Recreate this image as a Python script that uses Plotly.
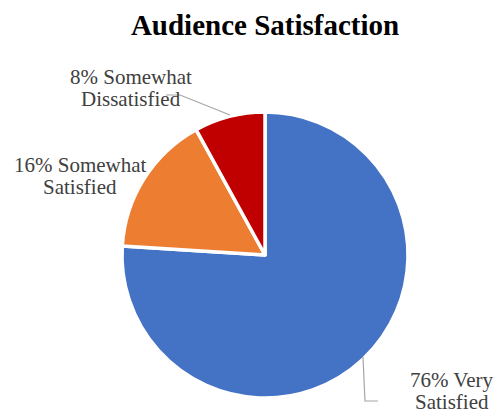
import plotly.graph_objects as go

categories = ["Very Satisfied", "Somewhat Satisfied", "Somewhat Dissatisfied"]
values = [76, 16, 8]
colors = ["#4472C4", "#ED7D31", "#C00000"]
label_lines = [["76% Very", "Satisfied"], ["16% Somewhat", "Satisfied"], ["8% Somewhat", "Dissatisfied"]]

W, H = 499, 416
def px(x):
    return x / W
def py(y):
    return 1 - y / H

cx, cy, r = 265, 255, 143
SERIF = "Times New Roman, Liberation Serif, DejaVu Serif, serif"

fig = go.Figure(go.Pie(
    labels=categories,
    values=values,
    sort=False,
    direction="clockwise",
    rotation=0,
    marker=dict(colors=colors, line=dict(color="white", width=3.5)),
    textinfo="none",
    hoverinfo="label+percent",
    domain=dict(x=[px(cx - r), px(cx + r)], y=[py(cy + r), py(cy - r)]),
    showlegend=False,
))

# (center x, baseline of first line) per label; line spacing 22px
label_pos = [(452, 387), (80, 172), (131, 84)]
FS = 21
anns = []
for lines, (x, base) in zip(label_lines, label_pos):
    for i, line in enumerate(lines):
        yc = base + 22 * i - 0.33 * FS
        anns.append(dict(text=line, x=px(x), y=py(yc), xref="paper", yref="paper",
                         xanchor="center", yanchor="middle", showarrow=False,
                         borderpad=0,
                         font=dict(family=SERIF, size=FS, color="#404040")))

leaders = [
    [(363, 357), (365, 401), (378, 401)],
    [(230, 115), (180, 95), (166, 95)],
]
shapes = []
for pts in leaders:
    path = "M " + " L ".join(f"{px(a):.5f},{py(b):.5f}" for a, b in pts)
    shapes.append(dict(type="path", path=path, xref="paper", yref="paper",
                       line=dict(color="#A6A6A6", width=1.2)))

fig.update_layout(
    width=W, height=H,
    margin=dict(l=0, r=0, t=0, b=0),
    paper_bgcolor="white", plot_bgcolor="white",
    title=dict(text="<b>Audience Satisfaction</b>", x=px(265), xanchor="center",
               y=py(25), yanchor="middle",
               font=dict(family=SERIF, size=29, color="black")),
    annotations=anns,
    shapes=shapes,
)

fig.write_html("out.html", config={"displayModeBar": False},
               post_script="document.body.style.margin='0';")
